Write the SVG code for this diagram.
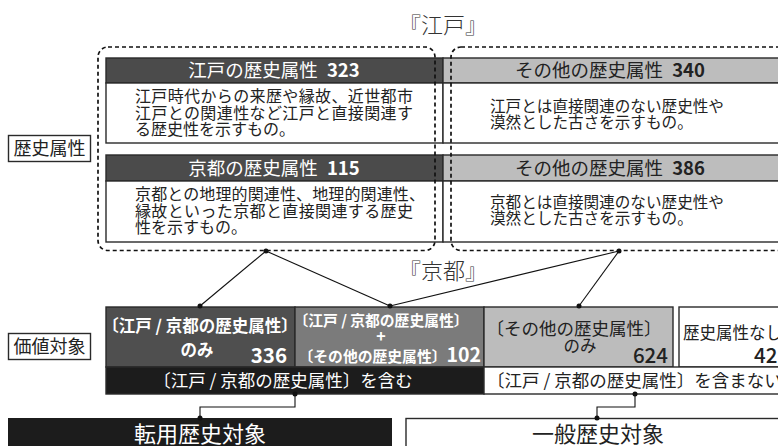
<svg xmlns="http://www.w3.org/2000/svg" width="778" height="446" viewBox="0 0 778 446">
<style>
text{font-family:"Noto Sans CJK JP","Noto Sans",sans-serif;}
.serif{font-family:"Liberation Serif","Noto Sans CJK JP",serif;font-weight:300;font-size:22px;fill:#333;}
.hd{font-size:18.5px;}
.body{font-size:16px;fill:#222;}
.bodyr{font-size:15.6px;fill:#222;}
.lbl{font-size:18px;fill:#222;}
.box{stroke:#2a2a2a;stroke-width:1.4;}
.dash{fill:none;stroke:#111;stroke-width:1.7;stroke-dasharray:4 3;}
.con{stroke:#111;stroke-width:1.1;fill:none;}
.dot{fill:#111;}
.wb{fill:#fff;font-weight:700;}
</style>
<rect width="778" height="446" fill="#fff"/>

<g id="label-edo"><text class="serif" x="443" y="33" text-anchor="middle">『江戸』</text></g>
<g id="label-kyoto"><text class="serif" x="443" y="279" text-anchor="middle">『京都』</text></g>

<g id="label-rekishi">
<rect x="8.5" y="135.5" width="82" height="26" fill="#fff" class="box"/>
<text class="lbl" x="49.5" y="155" text-anchor="middle">歴史属性</text>
</g>

<g id="edo-attr">
<rect x="106" y="58" width="337" height="25" fill="#4b4b4b" class="box"/>
<text class="hd" x="274" y="77" text-anchor="middle" fill="#fff">江戸の歴史属性<tspan dx="9" font-weight="700">323</tspan></text>
<rect x="106" y="83" width="337" height="60" fill="#fff" class="box"/>
<text class="body" x="135" y="102" textLength="278">江戸時代からの来歴や縁故、近世都市</text>
<text class="body" x="135" y="118.5" textLength="278">江戸との関連性など江戸と直接関連す</text>
<text class="body" x="135" y="135">る歴史性を示すもの。</text>
</g>

<g id="edo-other">
<rect x="443" y="58" width="350" height="25" fill="#bdbdbd" class="box"/>
<text class="hd" x="610" y="77" text-anchor="middle" fill="#222">その他の歴史属性<tspan dx="9" font-weight="700">340</tspan></text>
<rect x="443" y="83" width="350" height="60" fill="#fff" class="box"/>
<text class="bodyr" x="490" y="111.5">江戸とは直接関連のない歴史性や</text>
<text class="bodyr" x="490" y="128">漠然とした古さを示すもの。</text>
</g>

<g id="kyoto-attr">
<rect x="106" y="155" width="337" height="26" fill="#4b4b4b" class="box"/>
<text class="hd" x="274" y="174.5" text-anchor="middle" fill="#fff">京都の歴史属性<tspan dx="9" font-weight="700">115</tspan></text>
<rect x="106" y="181" width="337" height="61" fill="#fff" class="box"/>
<text class="body" x="135" y="200" textLength="290">京都との地理的関連性、地理的関連性、</text>
<text class="body" x="135" y="216.5" textLength="278">縁故といった京都と直接関連する歴史</text>
<text class="body" x="135" y="233">性を示すもの。</text>
</g>

<g id="kyoto-other">
<rect x="443" y="155" width="350" height="26" fill="#bdbdbd" class="box"/>
<text class="hd" x="610" y="174.5" text-anchor="middle" fill="#222">その他の歴史属性<tspan dx="9" font-weight="700">386</tspan></text>
<rect x="443" y="181" width="350" height="61" fill="#fff" class="box"/>
<text class="bodyr" x="490" y="207.5">京都とは直接関連のない歴史性や</text>
<text class="bodyr" x="490" y="224">漠然とした古さを示すもの。</text>
</g>

<g id="group-edo-kyoto"><rect x="98" y="47" width="337" height="203.5" rx="10" class="dash"/></g>
<g id="group-other"><rect x="451" y="47" width="360" height="203.5" rx="10" class="dash"/></g>

<g id="label-kachi">
<rect x="8.5" y="333.5" width="82" height="26" fill="#fff" class="box"/>
<text class="lbl" x="49.5" y="353" text-anchor="middle">価値対象</text>
</g>

<g id="v-only">
<rect x="106" y="307" width="189" height="60" fill="#4f4f4f" class="box"/>
<text class="wb" x="200" y="332" font-size="16.5" text-anchor="middle">〔江戸 / 京都の歴史属性〕</text>
<text class="wb" x="197" y="356" font-size="16.5" text-anchor="middle">のみ</text>
<text class="wb" x="287" y="363" font-size="20.5" text-anchor="end">336</text>
</g>

<g id="v-both">
<rect x="295" y="307" width="189" height="60" fill="#7b7b7b" class="box"/>
<text class="wb" x="381" y="326" font-size="14.8" text-anchor="middle">〔江戸 / 京都の歴史属性〕</text>
<text class="wb" x="381" y="342" font-size="16" text-anchor="middle">+</text>
<text class="wb" x="481" y="362" font-size="14.8" text-anchor="end">〔その他の歴史属性〕<tspan font-size="19.5">102</tspan></text>
</g>

<g id="v-other">
<rect x="484" y="307" width="189" height="60" fill="#bcbcbc" class="box"/>
<text x="574" y="335" font-size="17.5" fill="#222" text-anchor="middle">〔その他の歴史属性〕</text>
<text x="580" y="352" font-size="16.5" fill="#222" text-anchor="middle">のみ</text>
<text x="668" y="363" font-size="20.5" font-weight="500" fill="#222" text-anchor="end">624</text>
</g>

<g id="v-none">
<rect x="679" y="307" width="120" height="60" fill="#fff" class="box"/>
<text x="683" y="339" font-size="16.5" fill="#222">歴史属性なし</text>
<text x="754" y="363" font-size="20.5" font-weight="500" fill="#222">421</text>
</g>

<g id="bar-include">
<rect x="106" y="367" width="378" height="27" fill="#1c1c1c" class="box"/>
<text x="283" y="387" font-size="17.5" fill="#fff" text-anchor="middle">〔江戸 / 京都の歴史属性〕を含む</text>
</g>
<g id="bar-exclude">
<rect x="484" y="367" width="320" height="27" fill="#fff" class="box"/>
<text x="487" y="387" font-size="17.5" fill="#222">〔江戸 / 京都の歴史属性〕を含まない</text>
</g>

<g id="tenyo">
<rect x="8" y="418" width="384" height="34" fill="#1c1c1c"/>
<text x="200" y="441.5" font-size="22" fill="#fff" text-anchor="middle">転用歴史対象</text>
</g>
<g id="ippan">
<rect x="406" y="418.5" width="390" height="34" fill="#fff" class="box"/>
<text x="598" y="441.5" font-size="22" fill="#222" text-anchor="middle">一般歴史対象</text>
</g>

<g id="connectors">
<line x1="266" y1="251" x2="200" y2="306" class="con"/>
<line x1="266" y1="251" x2="390" y2="306" class="con"/>
<line x1="619" y1="251" x2="390" y2="306" class="con"/>
<line x1="619" y1="251" x2="579" y2="306" class="con"/>
<polyline points="295,394 295,407 200,407 200,418" class="con"/>
<polyline points="635,394 635,407 597,407 597,418" class="con"/>
<circle cx="266" cy="251" r="2.5" class="dot"/>
<circle cx="619" cy="251" r="2.5" class="dot"/>
<circle cx="200" cy="306" r="2.5" class="dot"/>
<circle cx="390" cy="306" r="2.5" class="dot"/>
<circle cx="579" cy="306" r="2.5" class="dot"/>
<circle cx="295" cy="394" r="2.5" class="dot"/>
<circle cx="200" cy="418" r="2.5" class="dot"/>
<circle cx="635" cy="394" r="2.5" class="dot"/>
<circle cx="597" cy="418" r="2.5" class="dot"/>
</g>
</svg>
